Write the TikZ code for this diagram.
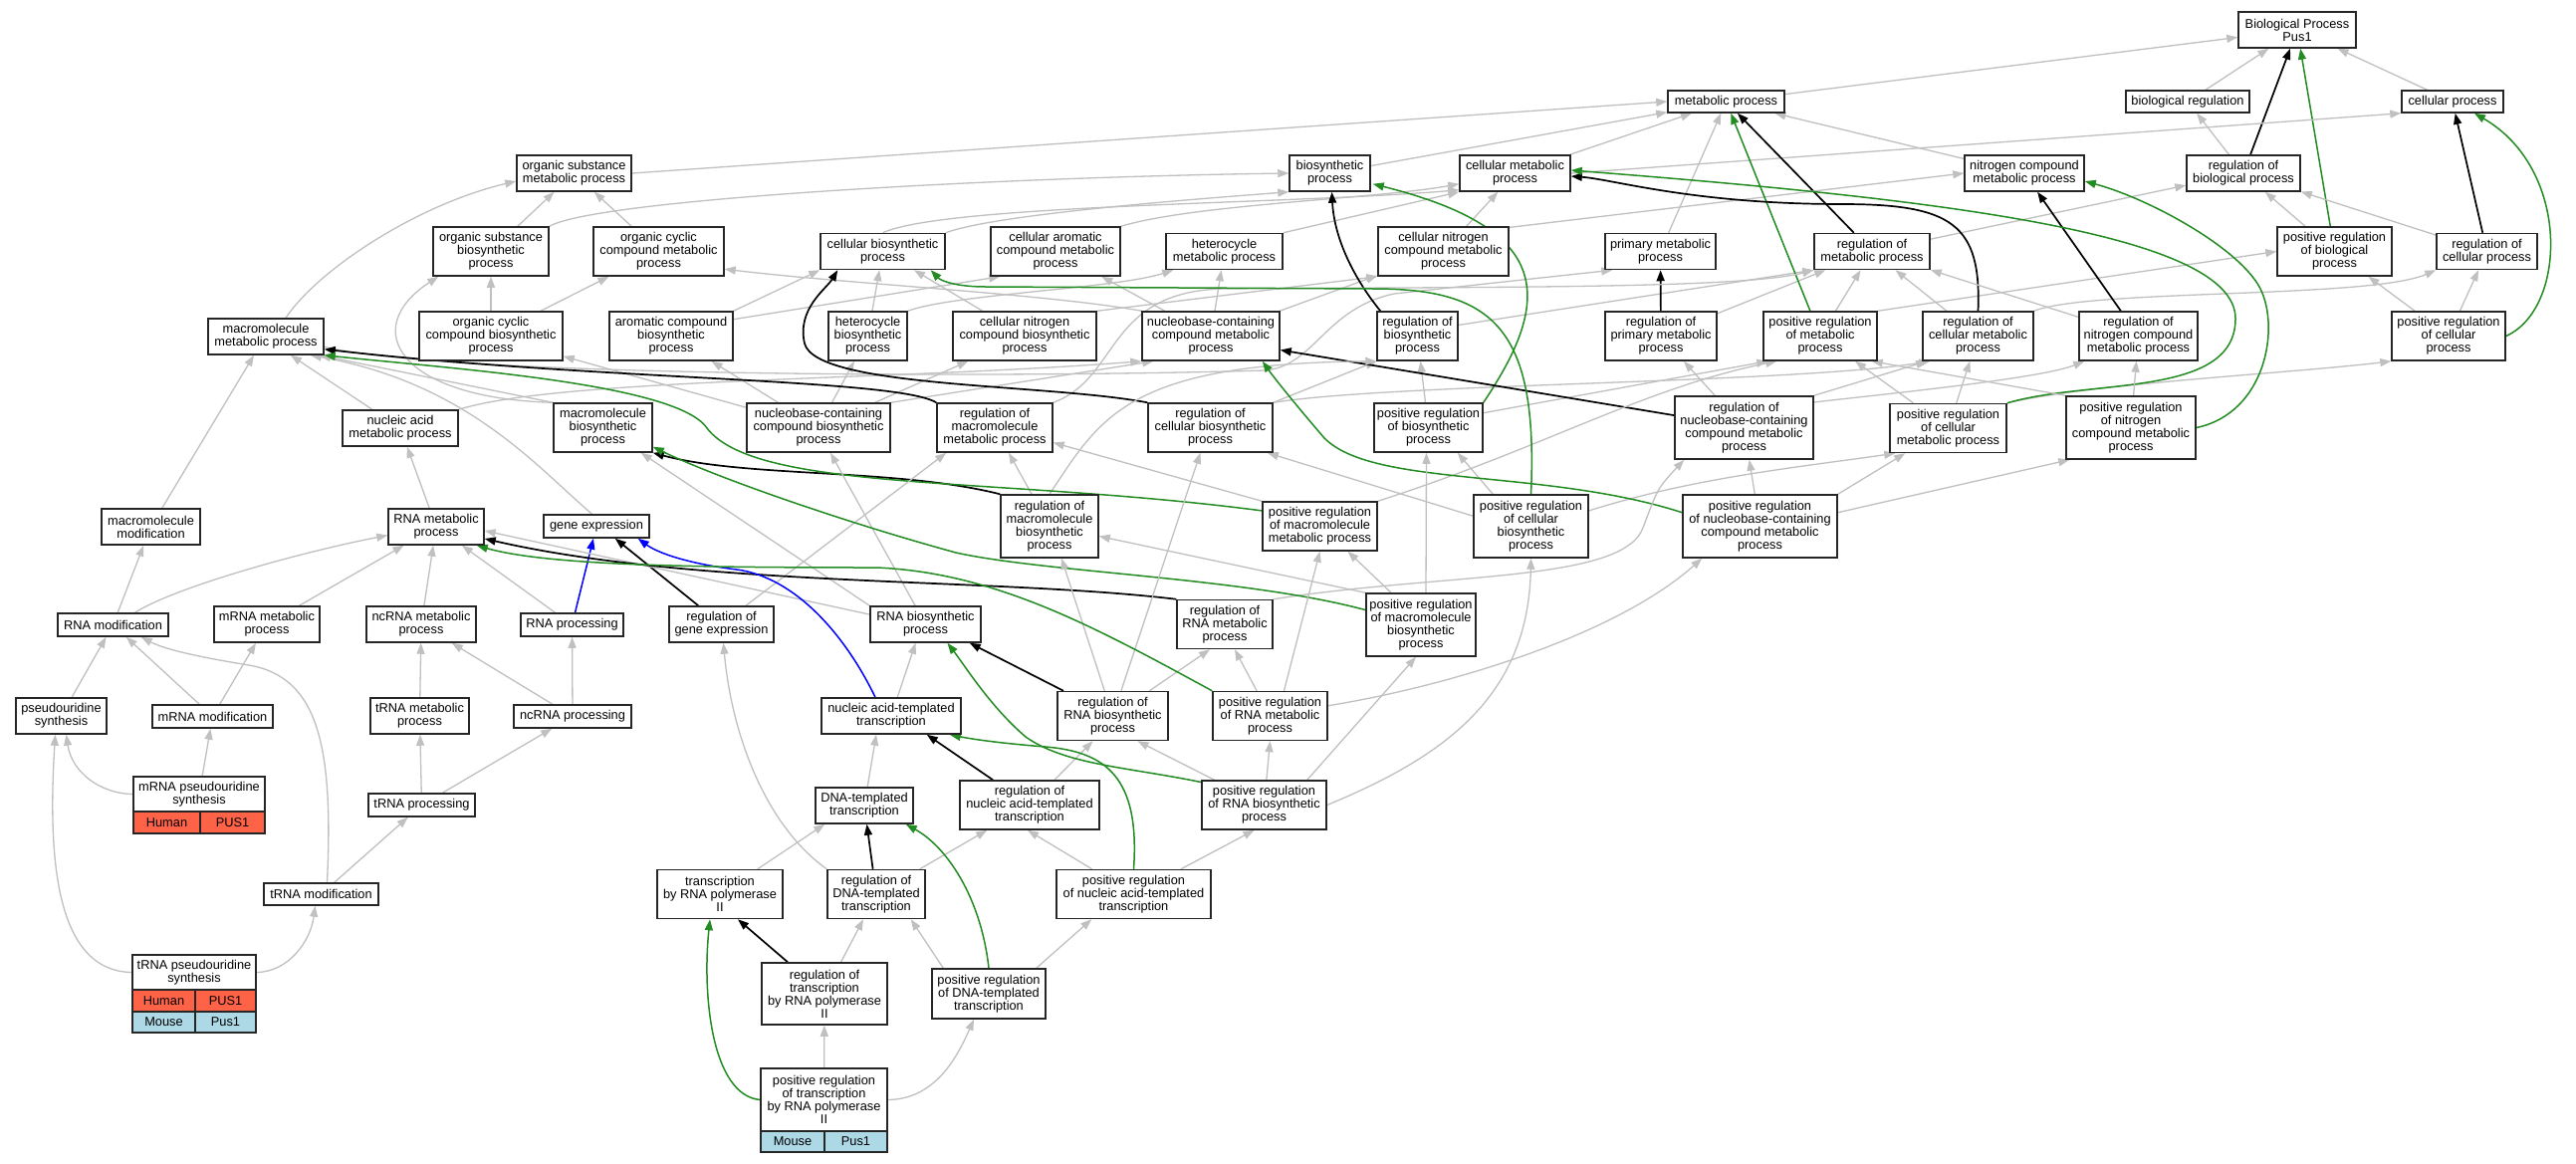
\documentclass[tikz,border=0pt]{standalone}
\usepackage{fontspec}
\setmainfont{Liberation Sans}
\usetikzlibrary{arrows.meta,calc}
\definecolor{egray}{RGB}{192,192,192}
\definecolor{fgreen}{RGB}{34,139,34}
\definecolor{ublue}{RGB}{0,0,255}
\definecolor{tomatoc}{RGB}{255,99,71}
\definecolor{lblue}{RGB}{173,216,230}
\pgfdeclarelayer{bg}
\pgfsetlayers{bg,main}
\tikzset{
 gonode/.style={draw=black!85, line width=1.5pt, fill=white, align=center, inner sep=0pt, font=\fontsize{12.8pt}{13pt}\selectfont},
 gocell/.style={draw=black!85, line width=1.5pt, inner sep=0pt, font=\fontsize{12.8pt}{13pt}\selectfont},
 ge/.style={draw=egray, line width=1.3pt, -{Triangle[length=11pt,width=8pt]}},
 ke/.style={draw=black, line width=1.7pt, -{Triangle[length=11pt,width=8pt]}},
 fe/.style={draw=fgreen, line width=1.5pt, -{Triangle[length=11pt,width=8pt]}},
 ue/.style={draw=ublue, line width=1.5pt, -{Triangle[length=11pt,width=8pt]}},
}
\newcommand\GOn[6]{\node[gonode,minimum width=#4pt,minimum height=#5pt] (#1) at (#2,#3) {#6};}
\newcommand\GOc[7]{\node[gocell,fill=#6,minimum width=#4pt,minimum height=#5pt] (#1) at (#2,#3) {#7};}
\begin{document}
\begin{tikzpicture}[x=1pt,y=-1pt]
\useasboundingbox (0,0) rectangle (2587,1168);
% ---------------- nodes ----------------
\GOn{BP}{2307}{30}{118}{36}{Biological Process\\Pus1}
\GOn{met}{1733.5}{102}{117}{22}{metabolic process}
\GOn{biolreg}{2197}{102}{124}{22}{biological regulation}
\GOn{cellproc}{2463}{102}{102}{22}{cellular process}
\GOn{osmp}{576.5}{174}{115}{36}{organic substance\\metabolic process}
\GOn{biosyn}{1335.5}{174}{81}{36}{biosynthetic\\process}
\GOn{cellmet}{1521.5}{174}{111}{36}{cellular metabolic\\process}
\GOn{ncmp}{2033}{174}{120}{36}{nitrogen compound\\metabolic process}
\GOn{regbp}{2253}{174}{114}{36}{regulation of\\biological process}
\GOn{osbp}{493}{252.5}{116}{49}{organic substance\\biosynthetic\\process}
\GOn{occmp}{661.5}{252.5}{131}{49}{organic cyclic\\compound metabolic\\process}
\GOn{cellbio}{886.5}{252.5}{125}{36}{cellular biosynthetic\\process}
\GOn{camp}{1060}{252.5}{130}{49}{cellular aromatic\\compound metabolic\\process}
\GOn{hmp}{1229.5}{252.5}{117}{36}{heterocycle\\metabolic process}
\GOn{cncmp}{1449.5}{252.5}{131}{49}{cellular nitrogen\\compound metabolic\\process}
\GOn{pmp}{1667.5}{252.5}{111}{36}{primary metabolic\\process}
\GOn{regmp}{1880}{252.5}{116}{36}{regulation of\\metabolic process}
\GOn{posregbp}{2344.5}{252.5}{115}{49}{positive regulation\\of biological\\process}
\GOn{regcp}{2497.5}{252.5}{101}{36}{regulation of\\cellular process}
\GOn{macmp}{267}{338}{116}{36}{macromolecule\\metabolic process}
\GOn{occbp}{493}{337.5}{144}{49}{organic cyclic\\compound biosynthetic\\process}
\GOn{acbp}{674}{337.5}{124}{49}{aromatic compound\\biosynthetic\\process}
\GOn{hbp}{871.5}{337.5}{79}{49}{heterocycle\\biosynthetic\\process}
\GOn{cncbp}{1029}{337.5}{144}{49}{cellular nitrogen\\compound biosynthetic\\process}
\GOn{nbcmp}{1216}{337.5}{138}{49}{nucleobase-containing\\compound metabolic\\process}
\GOn{regbio}{1423.5}{337.5}{81}{49}{regulation of\\biosynthetic\\process}
\GOn{regpmp}{1668}{337.5}{112}{49}{regulation of\\primary metabolic\\process}
\GOn{posregmp}{1828}{337.5}{114}{49}{positive regulation\\of metabolic\\process}
\GOn{regcmp}{1986.5}{337.5}{111}{49}{regulation of\\cellular metabolic\\process}
\GOn{regncmp}{2147.5}{337.5}{119}{49}{regulation of\\nitrogen compound\\metabolic process}
\GOn{posregcp}{2459}{337.5}{114}{49}{positive regulation\\of cellular\\process}
\GOn{namp}{402}{430}{116}{36}{nucleic acid\\metabolic process}
\GOn{macbp}{605.5}{429.5}{99}{49}{macromolecule\\biosynthetic\\process}
\GOn{nbcbp}{822}{429.5}{144}{49}{nucleobase-containing\\compound biosynthetic\\process}
\GOn{regmacmp}{999}{429.5}{116}{49}{regulation of\\macromolecule\\metabolic process}
\GOn{regcbp}{1215.5}{429.5}{125}{49}{regulation of\\cellular biosynthetic\\process}
\GOn{posregbio}{1434.5}{429.5}{109}{49}{positive regulation\\of biosynthetic\\process}
\GOn{regnbcmp}{1751.5}{429.5}{139}{63}{regulation of\\nucleobase-containing\\compound metabolic\\process}
\GOn{posregcmp}{1956.5}{430}{117}{49}{positive regulation\\of cellular\\metabolic process}
\GOn{posregncmp}{2140}{429.5}{130}{63}{positive regulation\\of nitrogen\\compound metabolic\\process}
\GOn{macmod}{151.5}{529}{99}{36}{macromolecule\\modification}
\GOn{rnamp}{438}{529}{96}{36}{RNA metabolic\\process}
\GOn{geneexp}{599}{528.5}{106}{23}{gene expression}
\GOn{regmacbp}{1054}{528.5}{98}{63}{regulation of\\macromolecule\\biosynthetic\\process}
\GOn{posregmacmp}{1325.5}{528.5}{115}{49}{positive regulation\\of macromolecule\\metabolic process}
\GOn{posregcbp}{1537.5}{528.5}{115}{63}{positive regulation\\of cellular\\biosynthetic\\process}
\GOn{posregnbcmp}{1767.5}{528.5}{155}{63}{positive regulation\\of nucleobase-containing\\compound metabolic\\process}
\GOn{rnamod}{113.5}{627.5}{111}{23}{RNA modification}
\GOn{mrnamp}{268}{627}{106}{36}{mRNA metabolic\\process}
\GOn{ncrnamp}{423}{627}{110}{36}{ncRNA metabolic\\process}
\GOn{rnaproc}{574.5}{627.5}{103}{23}{RNA processing}
\GOn{regge}{724.5}{627}{105}{36}{regulation of\\gene expression}
\GOn{rnabp}{929.5}{627}{111}{36}{RNA biosynthetic\\process}
\GOn{regrnamp}{1230}{627}{96}{49}{regulation of\\RNA metabolic\\process}
\GOn{posregmacbp}{1427}{627.5}{110}{63}{positive regulation\\of macromolecule\\biosynthetic\\process}
\GOn{psyn}{61.5}{719}{91}{36}{pseudouridine\\synthesis}
\GOn{mrnamod}{213.5}{719.5}{121}{23}{mRNA modification}
\GOn{trnamp}{421.5}{719}{99}{36}{tRNA metabolic\\process}
\GOn{ncrnaproc}{575}{719.5}{118}{23}{ncRNA processing}
\GOn{natt}{895}{719}{140}{36}{nucleic acid-templated\\transcription}
\GOn{regrnabp}{1117.5}{719}{111}{49}{regulation of\\RNA biosynthetic\\process}
\GOn{posregrnamp}{1275.5}{719}{115}{49}{positive regulation\\of RNA metabolic\\process}
\GOn{mrnapsyn}{200}{797.5}{132}{35}{mRNA pseudouridine\\synthesis}
\GOc{mpsA}{167.5}{826}{67}{22}{tomatoc}{Human}
\GOc{mpsB}{233.5}{826}{65}{22}{tomatoc}{PUS1}
\GOn{trnaproc}{423.5}{808.5}{107}{23}{tRNA processing}
\GOn{dnatt}{868}{809}{98}{36}{DNA-templated\\transcription}
\GOn{regnatt}{1034}{808.5}{140}{49}{regulation of\\nucleic acid-templated\\transcription}
\GOn{posregrnabp}{1269.5}{808.5}{125}{49}{positive regulation\\of RNA biosynthetic\\process}
\GOn{trnamod}{322.5}{898}{115}{22}{tRNA modification}
\GOn{trpol}{723}{898}{126}{49}{transcription\\by RNA polymerase\\II}
\GOn{regdnatt}{880}{898}{98}{49}{regulation of\\DNA-templated\\transcription}
\GOn{posregnatt}{1138.5}{898}{155}{49}{positive regulation\\of nucleic acid-templated\\transcription}
\GOn{trnapsyn}{195}{976.5}{124}{35}{tRNA pseudouridine\\synthesis}
\GOc{tpsA}{164.5}{1005}{63}{22}{tomatoc}{Human}
\GOc{tpsB}{226.5}{1005}{61}{22}{tomatoc}{PUS1}
\GOc{tpsC}{164.5}{1026.5}{63}{21}{lblue}{Mouse}
\GOc{tpsD}{226.5}{1026.5}{61}{21}{lblue}{Pus1}
\GOn{regtrpol}{828}{998}{126}{62}{regulation of\\transcription\\by RNA polymerase\\II}
\GOn{posregdnatt}{993}{998}{114}{50}{positive regulation\\of DNA-templated\\transcription}
\GOn{posregtrpol}{827.5}{1104.5}{127}{63}{positive regulation\\of transcription\\by RNA polymerase\\II}
\GOc{ptpA}{796}{1146.5}{64}{21}{lblue}{Mouse}
\GOc{ptpB}{859.5}{1146.5}{63}{21}{lblue}{Pus1}
% ---------------- edges ----------------
\begin{pgfonlayer}{bg}
\fill[white] (0,0) rectangle (2587,1168);
% top
\draw[ge] (met) -- (BP);
\draw[ge] (biolreg) -- (BP);
\draw[ge] (cellproc) -- (BP);
\draw[ge] (regbp) -- (biolreg);
\draw[ke] (regbp) -- (BP);
\draw[fe] (posregbp) -- (BP);
\draw[ge] (posregbp) -- (regbp);
\draw[ge] (regcp) -- (regbp);
\draw[ke] (regcp) -- (cellproc);
\draw[fe] (posregcp.east) .. controls (2578,310) and (2582,170) .. ($(cellproc.south)+(22,0)$);
\draw[ge] (posregcp) -- (regcp);
\draw[ge] (posregcp) -- (posregbp);
% metabolic layer
\draw[ge] (osmp.east) -- (met.west);
\draw[ge] (biosyn) -- (met);
\draw[ge] (cellmet) -- (met);
\draw[ge] (cellmet.east) -- (cellproc.south west);
\draw[ge] (ncmp) -- (met);
\draw[ge] (pmp) -- (met);
\draw[ke] (regmp) -- (met);
\draw[ge] (regmp) -- (regbp);
\draw[ge] (osbp.north east) .. controls (600,200) and (1000,178) .. (biosyn.west);
\draw[ge] (cellbio.north east) .. controls (1000,215) and (1200,200) .. (biosyn.south west);
\draw[ge] (cellbio.north) .. controls (950,205) and (1300,205) .. ($(cellmet.south west)+(0,-2)$);
\draw[ge] (camp.north east) .. controls (1200,205) and (1380,200) .. ($(cellmet.south west)+(0,-8)$);
\draw[ge] (hmp.north east) -- (cellmet.south west);
\draw[ge] (cncmp) -- (cellmet);
\draw[ge] (cncmp.20) -- (ncmp.west);
\draw[ge] ($(macmp.north)+(20,0)$) .. controls (320,270) and (420,205) .. ($(osmp.west)+(0,8)$);
\draw[ge] (macmp.-10) .. controls (450,378) and (1000,380) .. (1270,372) .. controls (1320,368) and (1330,310) .. (1400,295) -- ($(pmp.south west)+(8,0)$);
\draw[ge] (osbp) -- (osmp);
\draw[ge] (occmp) -- (osmp);
\draw[ge] (occbp) -- (osbp);
\draw[ge] (occbp) -- (occmp);
\draw[ge] (acbp.north east) -- (cellbio.south west);
\draw[ge] (acbp.15) -- ($(camp.south west)+(10,0)$);
\draw[ge] (hbp) -- (cellbio);
\draw[ge] (hbp.north east) .. controls (960,295) and (1120,290) .. ($(hmp.south west)+(8,0)$);
\draw[ge] (cncbp) -- (cellbio);
\draw[ge] (cncbp.north east) -- (cncmp.south west);
\draw[ge] (nbcmp) -- (camp);
\draw[ge] (nbcmp) -- (hmp);
\draw[ge] (nbcmp) -- (cncmp);
\draw[ge] (nbcmp.160) .. controls (1050,295) and (850,285) .. (occmp.-15);
\draw[ke] ($(regbio.north west)+(4,0)$) .. controls (1360,280) and (1340,240) .. ($(biosyn.south)+(2,0)$);
\draw[ge] (regbio.15) -- (regmp.south west);
\draw[ke] (regpmp) -- (pmp);
\draw[ge] (regpmp) -- (regmp);
\draw[fe] (posregmp) -- (met);
\draw[ge] (posregmp) -- (regmp);
\draw[ge] (posregmp.north east) -- (posregbp.west);
\draw[ge] (regcmp) -- (regmp);
\draw[ke] (regcmp.north) .. controls (1990,225) and (1960,205) .. (1850,205) .. controls (1700,205) and (1620,180) .. ($(cellmet.east)+(0,3)$);
\draw[ge] (regcmp.north east) .. controls (2100,290) and (2380,300) .. (regcp.south west);
\draw[ke] (regncmp) -- (ncmp);
\draw[ge] (regncmp) -- (regmp);
% row F
\draw[ge] (namp) -- ($(macmp.south)+(25,0)$);
\draw[ge] (namp.north east) .. controls (560,380) and (900,382) .. (nbcmp.south west);
\draw[ge] (macbp.north west) -- ($(macmp.south east)+(-5,0)$);
\draw[ge] (macbp.north west) .. controls (400,400) and (360,330) .. ($(osbp.south west)+(6,0)$);
\draw[ge] (nbcbp) -- (occbp);
\draw[ge] (nbcbp) -- (acbp);
\draw[ge] (nbcbp) -- (hbp);
\draw[ge] (nbcbp) -- (cncbp);
\draw[ge] (nbcbp.north east) -- ($(nbcmp.south west)+(12,0)$);
\draw[ge] (regmacmp.north east) .. controls (1125,380) and (1110,292) .. (1230,290) .. controls (1500,288) and (1750,290) .. (regmp.south west);
\draw[ke] (regmacmp.north west) .. controls (900,380) and (600,382) .. ($(macmp.south east)+(0,-6)$);
\draw[ke] (regcbp.north west) .. controls (1050,385) and (820,390) .. (808,345) .. controls (800,310) and (830,290) .. ($(cellbio.south west)+(18,0)$);
\draw[ge] (regcbp.north east) -- (regbio.south west);
\draw[ge] (regcbp.north east) .. controls (1400,385) and (1800,385) .. ($(regcmp.south west)+(8,0)$);
\draw[fe] (posregbio.north east) .. controls (1560,300) and (1560,230) .. ($(biosyn.south east)+(2,-8)$);
\draw[ge] (posregbio) -- (regbio);
\draw[ge] (posregbio.15) -- ($(posregmp.south west)+(5,0)$);
\draw[ke] (regnbcmp.170) -- ($(nbcmp.east)+(0,14)$);
\draw[ge] (regnbcmp) -- (regpmp);
\draw[ge] (regnbcmp.north east) -- ($(regcmp.south west)+(5,0)$);
\draw[ge] (regnbcmp.20) .. controls (1900,395) and (2050,380) .. ($(regncmp.south west)+(6,0)$);
\draw[ge] (posregcmp) -- (posregmp);
\draw[ge] (posregcmp) -- (regcmp);
\draw[ge] (posregcmp.north east) .. controls (2100,385) and (2300,375) .. (posregcp.south west);
\draw[fe] (posregcmp.north east) .. controls (2100,380) and (2245,400) .. (2245,320) .. controls (2245,235) and (1950,200) .. ($(cellmet.east)+(0,-3)$);
\draw[fe] (posregncmp.east) .. controls (2275,415) and (2290,330) .. (2270,290) .. controls (2250,250) and (2160,200) .. ($(ncmp.east)+(0,8)$);
\draw[ge] (posregncmp.north west) -- ($(posregmp.south east)+(-6,0)$);
\draw[ge] (posregncmp) -- (regncmp);
% row G
\draw[ge] (macmod) -- ($(macmp.south)+(-12,0)$);
\draw[ge] (rnamp) -- (namp);
\draw[ge] (geneexp.110) .. controls (540,470) and (470,385) .. ($(macmp.south east)+(-14,0)$);
\draw[ge] (regmacbp) -- (regmacmp);
\draw[ge] (regmacbp.north) .. controls (1105,420) and (1130,365) .. (regbio.south west);
\draw[ke] (regmacbp.north west) .. controls (900,470) and (750,480) .. (macbp.south east);
\draw[fe] (posregmacmp.165) .. controls (1000,478) and (760,495) .. (710,430) .. controls (680,385) and (450,370) .. (macmp.south east);
\draw[ge] (posregmacmp.north west) -- ($(regmacmp.east)+(0,15)$);
\draw[ge] (posregmacmp.north east) .. controls (1550,450) and (1650,390) .. ($(posregmp.south west)+(14,0)$);
\draw[fe] (posregcbp.north) .. controls (1545,330) and (1500,290) .. (1380,290) -- (990,288) .. controls (960,288) and (945,282) .. ($(cellbio.south east)+(-15,0)$);
\draw[ge] ($(posregcbp.north west)+(20,0)$) -- ($(posregbio.south east)+(-26,0)$);
\draw[ge] (posregcbp.170) -- ($(regcbp.south east)+(-6,0)$);
\draw[ge] (posregcbp.15) .. controls (1700,480) and (1800,470) .. ($(posregcmp.south west)+(6,0)$);
\draw[ge] (posregnbcmp) -- (regnbcmp);
\draw[ge] (posregnbcmp.north east) -- ($(posregcmp.south west)+(16,0)$);
\draw[ge] (posregnbcmp.10) -- ($(posregncmp.south west)+(4,0)$);
\draw[fe] (posregnbcmp.170) .. controls (1550,470) and (1380,490) .. (1330,440) .. controls (1300,405) and (1280,380) .. ($(nbcmp.south east)+(-18,0)$);
% row H
\draw[ge] (rnamod) -- (macmod);
\draw[ge] ($(rnamod.north)+(22,0)$) .. controls (175,590) and (300,555) .. (rnamp.-170);
\draw[ge] (mrnamp) -- (rnamp);
\draw[ge] (ncrnamp) -- (rnamp);
\draw[ge] (rnaproc) -- (rnamp);
\draw[ue] (rnaproc) -- (geneexp);
\draw[ke] (regge) -- ($(geneexp.south east)+(-35,0)$);
\draw[ge] (regge) -- ($(regmacmp.south west)+(10,0)$);
\draw[ge] (rnabp) -- ($(nbcbp.south)+(12,0)$);
\draw[ge] (rnabp.north west) -- ($(macbp.south east)+(-12,0)$);
\draw[ge] (rnabp.170) -- ($(rnamp.east)+(0,4)$);
\draw[ke] (regrnamp.north west) .. controls (1000,580) and (700,590) .. ($(rnamp.east)+(0,12)$);
\draw[ge] (regrnamp.north east) .. controls (1450,575) and (1630,585) .. (1650,530) .. controls (1665,490) .. ($(regnbcmp.south west)+(10,0)$);
\draw[fe] (posregmacbp.165) .. controls (1250,580) and (1050,575) .. (960,555) .. controls (850,525) and (720,480) .. ($(macbp.south east)+(0,-6)$);
\draw[ge] (posregmacbp.north west) -- ($(regmacbp.east)+(0,10)$);
\draw[ge] ($(posregmacbp.north)+(-30,0)$) -- ($(posregmacmp.south)+(28,0)$);
\draw[ge] ($(posregmacbp.north)+(5,0)$) -- ($(posregbio.south)+(-2,0)$);
% row I
\draw[ge] (psyn) -- (rnamod);
\draw[ge] (mrnamod) -- (rnamod);
\draw[ge] (mrnamod) -- (mrnamp);
\draw[ge] (trnamp) -- (ncrnamp);
\draw[ge] (ncrnaproc) -- (ncrnamp);
\draw[ge] (ncrnaproc) -- (rnaproc);
\draw[ge] (natt) -- ($(rnabp.south)+(-10,0)$);
\draw[ue] ($(natt.north)+(-16,0)$) .. controls (850,640) and (800,580) .. (740,572) .. controls (690,566) and (660,555) .. ($(geneexp.south east)+(-12,0)$);
\draw[ke] (regrnabp) -- ($(rnabp.south east)+(-12,0)$);
\draw[ge] (regrnabp) -- ($(regmacbp.south)+(12,0)$);
\draw[ge] (regrnabp) -- ($(regcbp.south)+(-10,0)$);
\draw[ge] (regrnabp) -- ($(regrnamp.south)+(-15,0)$);
\draw[ge] (posregrnamp) -- ($(regrnamp.south)+(10,0)$);
\draw[ge] ($(posregrnamp.north)+(14,0)$) -- (posregmacmp.south);
\draw[ge] (posregrnamp.10) .. controls (1450,690) and (1620,640) .. ($(posregnbcmp.south west)+(20,0)$);
\draw[fe] (posregrnamp.north west) .. controls (1100,630) and (1000,575) .. (880,570) .. controls (700,570) and (550,568) .. ($(rnamp.south east)+(-8,0)$);
% row J
\draw[ge] (mrnapsyn.west) .. controls (100,797) and (72,775) .. (psyn.-75);
\draw[ge] (mrnapsyn) -- (mrnamod);
\draw[ge] (trnaproc) -- (trnamp);
\draw[ge] (trnaproc) -- (ncrnaproc);
\draw[ge] (dnatt) -- ($(natt.south)+(-15,0)$);
\draw[ke] (regnatt) -- ($(natt.south east)+(-35,0)$);
\draw[ge] (regnatt) -- ($(regrnabp.south)+(-20,0)$);
\draw[ge] (posregrnabp) -- ($(regrnabp.south)+(25,0)$);
\draw[ge] (posregrnabp) -- (posregrnamp.south);
\draw[ge] ($(posregrnabp.north east)+(-20,0)$) -- ($(posregmacbp.south)+(-5,0)$);
\draw[ge] (posregrnabp.east) .. controls (1450,760) and (1535,700) .. (posregcbp.south);
\draw[fe] (posregrnabp.160) .. controls (1130,770) and (1070,768) .. (1030,740) .. controls (995,710) and (970,670) .. ($(rnabp.south)+(22,0)$);
% row K
\draw[fe] (posregnatt.north) .. controls (1145,780) and (1110,755) .. (1050,750) .. controls (1000,746) and (975,742) .. ($(natt.south east)+(-12,0)$);
\draw[ge] (posregnatt) -- ($(regnatt.south)+(-2,0)$);
\draw[ge] (posregnatt) -- ($(posregrnabp.south)+(-10,0)$);
\draw[ge] (trnamod) -- (trnaproc);
\draw[ge] ($(trnamod.north)+(6,0)$) .. controls (335,750) and (320,680) .. (250,668) .. controls (200,660) and (165,652) .. ($(rnamod.south east)+(-28,0)$);
\draw[ge] (trpol) -- ($(dnatt.south west)+(10,0)$);
\draw[ke] (regdnatt) -- (dnatt);
\draw[ge] (regdnatt) -- ($(regnatt.south west)+(28,0)$);
\draw[ge] (regdnatt.north west) .. controls (770,830) and (735,740) .. ($(regge.south)+(2,0)$);
% row L, M
\draw[ge] (trnapsyn.west) .. controls (55,975) and (48,860) .. ($(psyn.south)+(-6,0)$);
\draw[ge] (trnapsyn.east) .. controls (290,976) and (312,945) .. ($(trnamod.south)+(-6,0)$);
\draw[ke] (regtrpol) -- ($(trpol.south)+(18,0)$);
\draw[ge] (regtrpol) -- ($(regdnatt.south)+(-13,0)$);
\draw[ge] ($(posregdnatt.north west)+(12,0)$) -- ($(regdnatt.south east)+(-15,0)$);
\draw[ge] ($(posregdnatt.north east)+(-10,0)$) -- ($(posregnatt.south west)+(36,0)$);
\draw[fe] (posregdnatt.north) .. controls (985,900) and (950,850) .. ($(dnatt.south east)+(-8,0)$);
\draw[ge] (posregtrpol) -- (regtrpol);
\draw[ge] (posregtrpol.east) .. controls (940,1104) and (962,1060) .. ($(posregdnatt.south)+(-15,0)$);
\draw[fe] (posregtrpol.west) .. controls (715,1100) and (705,1000) .. ($(trpol.south)+(-10,0)$);
\end{pgfonlayer}
\end{tikzpicture}
\end{document}
